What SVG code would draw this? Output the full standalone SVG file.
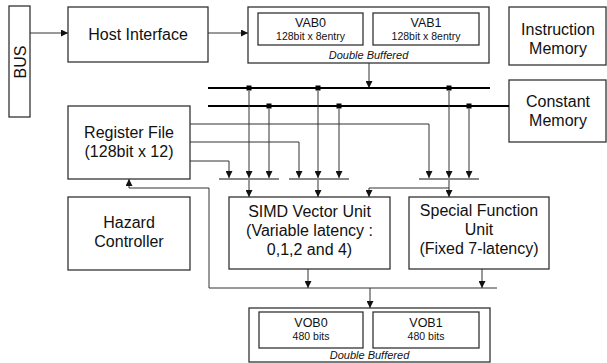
<svg xmlns="http://www.w3.org/2000/svg" width="607" height="363" viewBox="0 0 607 363">
<style>
.box{fill:#fff;stroke:#333;stroke-width:1.3}
.t{font-family:"Liberation Sans",Arial,sans-serif;font-size:16px;fill:#111;text-anchor:middle}
.ts{font-family:"Liberation Sans",Arial,sans-serif;font-size:12.5px;fill:#111;text-anchor:middle}
.tx{font-family:"Liberation Sans",Arial,sans-serif;font-size:10.5px;fill:#111;text-anchor:middle}
.ti{font-family:"Liberation Sans",Arial,sans-serif;font-size:11px;font-style:italic;fill:#111;text-anchor:middle}
.c{fill:none;stroke:#333;stroke-width:1}
.ca{fill:none;stroke:#333;stroke-width:1;marker-end:url(#ah)}
.bus{fill:none;stroke:#000;stroke-width:2.2}
.bar{fill:none;stroke:#888;stroke-width:2}
.j{fill:#000}
</style>
<defs>
<marker id="ah" viewBox="0 0 8 8" refX="8" refY="4" markerWidth="7" markerHeight="7" markerUnits="userSpaceOnUse" orient="auto">
<path d="M0,0 L8,4 L0,8 z" fill="#111"/>
</marker>
</defs>

<g id="bus-node">
<rect class="box" x="9" y="6" width="21" height="111"/>
<text class="t" transform="translate(25.5,62) rotate(-90)">BUS</text>
</g>

<g id="host-interface">
<rect class="box" x="68" y="7" width="140" height="55"/>
<text class="t" x="138" y="40">Host Interface</text>
</g>

<g id="vab">
<rect class="box" x="248" y="7" width="241" height="56"/>
<rect class="box" x="258" y="13" width="105" height="32"/>
<text class="ts" x="310.5" y="27">VAB0</text>
<text class="tx" x="310.5" y="40">128bit x 8entry</text>
<rect class="box" x="373" y="13" width="106" height="32"/>
<text class="ts" x="426" y="27">VAB1</text>
<text class="tx" x="426" y="40">128bit x 8entry</text>
<text class="ti" x="368.5" y="59">Double Buffered</text>
</g>

<g id="instruction-memory">
<rect class="box" x="509" y="7" width="97" height="58"/>
<text class="t" x="558" y="35">Instruction</text>
<text class="t" x="558" y="54">Memory</text>
</g>

<g id="constant-memory">
<rect class="box" x="509" y="80" width="97" height="62"/>
<text class="t" x="558" y="107">Constant</text>
<text class="t" x="558" y="126">Memory</text>
</g>

<g id="register-file">
<rect class="box" x="68" y="106" width="122" height="73"/>
<text class="t" x="129" y="138">Register File</text>
<text class="t" x="129" y="157">(128bit x 12)</text>
</g>

<g id="hazard-controller">
<rect class="box" x="68" y="197" width="122" height="73"/>
<text class="t" x="129" y="228">Hazard</text>
<text class="t" x="129" y="247">Controller</text>
</g>

<g id="simd-vector-unit">
<rect class="box" x="229" y="197" width="161" height="72"/>
<text class="t" x="309.5" y="217">SIMD Vector Unit</text>
<text class="t" x="309.5" y="236">(Variable latency :</text>
<text class="t" x="309.5" y="255">0,1,2 and 4)</text>
</g>

<g id="special-function-unit">
<rect class="box" x="409" y="197" width="140" height="72"/>
<text class="t" x="479" y="216">Special Function</text>
<text class="t" x="479" y="235">Unit</text>
<text class="t" x="479" y="254">(Fixed 7-latency)</text>
</g>

<g id="vob">
<rect class="box" x="249" y="308" width="241" height="54"/>
<rect class="box" x="259" y="312" width="104" height="36"/>
<text class="ts" x="311" y="327">VOB0</text>
<text class="tx" x="311" y="340">480 bits</text>
<rect class="box" x="373" y="312" width="106" height="36"/>
<text class="ts" x="426" y="327">VOB1</text>
<text class="tx" x="426" y="340">480 bits</text>
<text class="ti" x="369.5" y="359">Double Buffered</text>
</g>

<g id="connectors">
<path class="ca" d="M30,33 H68"/>
<path class="ca" d="M208,33 H248"/>
<path class="ca" d="M369,63 V88"/>
<path class="bus" d="M208,88 H490"/>
<path class="bus" d="M208,106 H509"/>
<rect class="j" x="246.5" y="85.5" width="5" height="5"/>
<rect class="j" x="315.5" y="85.5" width="5" height="5"/>
<rect class="j" x="446.5" y="85.5" width="5" height="5"/>
<rect class="j" x="266.5" y="103.5" width="5" height="5"/>
<rect class="j" x="336.5" y="103.5" width="5" height="5"/>
<rect class="j" x="466.5" y="103.5" width="5" height="5"/>
<path class="ca" d="M249,91 V178"/>
<path class="ca" d="M269,109 V178"/>
<path class="ca" d="M318,91 V178"/>
<path class="ca" d="M339,109 V178"/>
<path class="ca" d="M449,91 V178"/>
<path class="ca" d="M469,109 V178"/>
<path class="ca" d="M190,124 H429 V178"/>
<path class="ca" d="M190,142 H299 V178"/>
<path class="ca" d="M190,161 H229 V178"/>
<path class="bar" d="M219,179 H279"/>
<path class="bar" d="M289,179 H349"/>
<path class="bar" d="M419,179 H479"/>
<path class="ca" d="M249,180 V197"/>
<path class="ca" d="M318,180 V197"/>
<path class="ca" d="M449,180 V197"/>
<path class="ca" d="M449,188 H369 V197"/>
<path class="ca" d="M308,269 V288"/>
<path class="ca" d="M482,269 V288"/>
<path class="c" d="M209,288 H497"/>
<path class="ca" d="M209,288 V188 H129 V179"/>
<path class="ca" d="M370,288 V308"/>
</g>
</svg>
